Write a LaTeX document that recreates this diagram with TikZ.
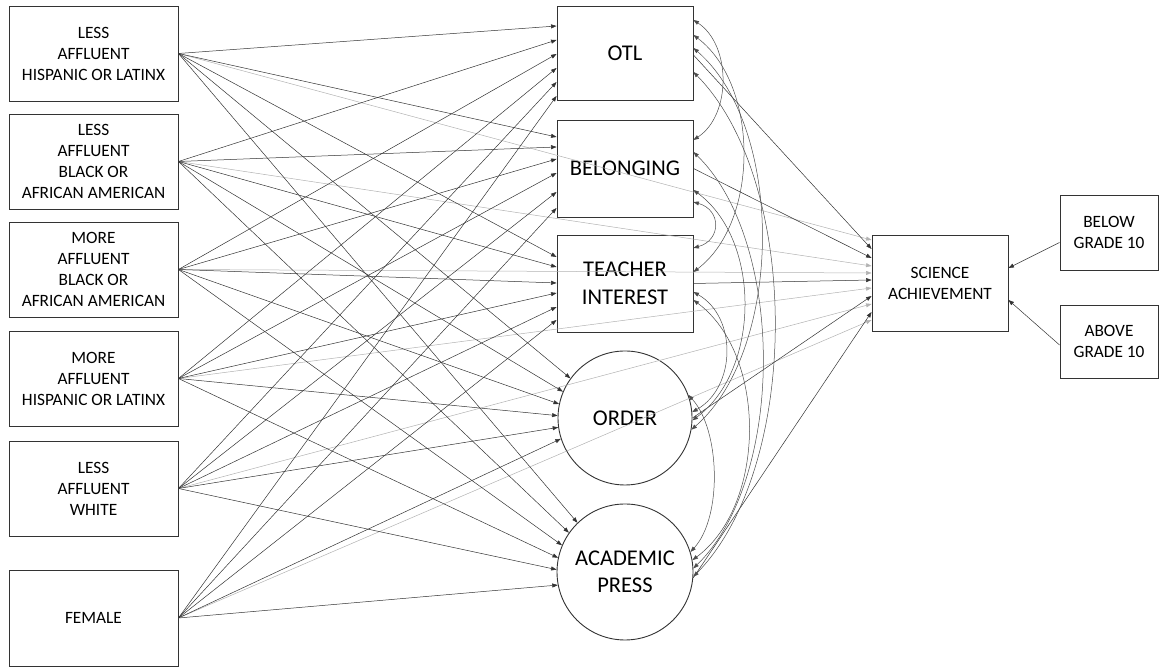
\documentclass[tikz,border=0pt]{standalone}
\usepackage{fontspec}
\setmainfont{Carlito}
\usetikzlibrary{arrows.meta,calc}
\begin{document}
\begin{tikzpicture}[x=1pt,y=1pt,
 box/.style={draw=black!80, line width=0.9pt, align=center, inner sep=0pt, font=\fontsize{17.3}{21}\selectfont},
 lbox/.style={box, minimum width=169pt, minimum height=95pt},
 med/.style={draw=black!80, line width=0.9pt, align=center, inner sep=0pt, minimum width=136pt, font=\fontsize{22.5}{27.5}\selectfont},
 mcirc/.style={med, circle},
 tip/.tip={Triangle[length=5.5pt,width=4pt]},
 pathar/.style={draw=black!80, line width=0.5pt, -tip},
 gpathar/.style={pathar, draw=black!30},
 cov/.style={draw=black!70, line width=0.5pt, tip-tip}
]
\useasboundingbox (0,0) rectangle (1159,668);
% exogenous
\node[lbox] (L1) at (93.5,614.5) {LESS\\AFFLUENT\\HISPANIC OR LATINX};
\node[lbox] (L2) at (93.5,506.5) {LESS\\AFFLUENT\\BLACK OR\\AFRICAN AMERICAN};
\node[lbox] (L3) at (93.5,398.5) {MORE\\AFFLUENT\\BLACK OR\\AFRICAN AMERICAN};
\node[lbox] (L4) at (93.5,289.5) {MORE\\AFFLUENT\\HISPANIC OR LATINX};
\node[lbox] (L5) at (93.5,179.5) {LESS\\AFFLUENT\\WHITE};
\node[lbox, minimum height=96pt] (L6) at (93.5,50) {FEMALE};
% mediators
\node[med, minimum height=94pt] (OTL) at (625,615) {OTL};
\node[med, minimum height=97pt] (BEL) at (625,499.5) {BELONGING};
\node[med, minimum height=97pt] (TI) at (625,384.5) {TEACHER\\INTEREST};
\node[mcirc, minimum size=134pt] (OR) at (625,250) {ORDER};
\node[mcirc, minimum size=136pt] (AP) at (625,96) {ACADEMIC\\PRESS};
% outcome
\node[box, minimum width=136pt, minimum height=96pt] (SA) at (940,385) {SCIENCE\\ACHIEVEMENT};
\node[box, minimum width=98pt, minimum height=75pt] (BG) at (1109,435.5) {BELOW\\GRADE 10};
\node[box, minimum width=98pt, minimum height=73pt] (AG) at (1109,326.5) {ABOVE\\GRADE 10};
% exogenous -> science achievement (light)
\foreach \i/\o in {1/43,2/17,3/10,4/-5,5/-21,6/-37}
  \draw[gpathar] (L\i.east) -- ([yshift=\o pt]SA.west);
% exogenous -> mediators
\foreach \i/\o in {1/27,2/13,3/-1,4/-15,5/-29,6/-43}
  \draw[pathar] (L\i.east) -- ([yshift=\o pt]OTL.west);
\foreach \i/\o in {1/31.5,2/21.5,3/9.5,4/-4.5,5/-23.5,6/-39.5}
  \draw[pathar] (L\i.east) -- ([yshift=\o pt]BEL.west);
\foreach \i/\o in {1/26.5,2/16.5,3/0.5,4/-9.5,5/-23.5,6/-36.5}
  \draw[pathar] (L\i.east) -- ([yshift=\o pt]TI.west);
\foreach \i/\a in {1/144,2/157,3/168,4/178,5/188,6/198}
  \draw[pathar] (L\i.east) -- (OR.\a);
\foreach \i/\a in {1/134,2/145,3/157,4/168,5/178,6/191}
  \draw[pathar] (L\i.east) -- (AP.\a);
% mediators -> science achievement
\draw[pathar] ([yshift=-2pt]OTL.east) -- ([yshift=34pt]SA.west);
\draw[pathar] (BEL.east) -- ([yshift=25pt]SA.west);
\draw[pathar] (TI.east) -- ([yshift=3pt]SA.west);
\draw[pathar] (OR.east) -- ([yshift=-13pt]SA.west);
\draw[pathar] (AP.-5) -- ([yshift=-29pt]SA.west);
% grade -> science achievement
\draw[pathar] ([yshift=-10pt]BG.west) -- ([yshift=15pt]SA.east);
\draw[pathar] ([yshift=-3.5pt]AG.west) -- ([yshift=-17pt]SA.east);
% covariances
\draw[cov] ([yshift=33pt]OTL.east) .. controls +(38,-25) and +(38,25) .. ([yshift=28.5pt]BEL.east);
\draw[cov] ([yshift=18pt]OTL.east) .. controls +(66,-50) and +(66,50) .. ([yshift=11.5pt]TI.east);
\draw[cov] ([yshift=5pt]OTL.east) .. controls +(92,-80) and +(92,80) .. (OR.-10);
\draw[cov] ([yshift=-19pt]OTL.east) .. controls +(108,-110) and +(108,110) .. (AP.-4);
\draw[cov] ([yshift=-33.5pt]BEL.east) .. controls +(28,-8) and +(28,8) .. ([yshift=35.5pt]TI.east);
\draw[cov] ([yshift=-21.5pt]BEL.east) .. controls +(68,-50) and +(68,50) .. (OR.-2);
\draw[cov] ([yshift=16.5pt]BEL.east) .. controls +(92,-90) and +(92,90) .. (AP.3);
\draw[cov] ([yshift=-8.5pt]TI.east) .. controls +(44,-25) and +(44,25) .. (OR.5);
\draw[cov] ([yshift=-16.5pt]TI.east) .. controls +(74,-55) and +(74,55) .. (AP.10);
\draw[cov] (OR.20) .. controls +(32,-35) and +(32,35) .. (AP.17);
\end{tikzpicture}
\end{document}
